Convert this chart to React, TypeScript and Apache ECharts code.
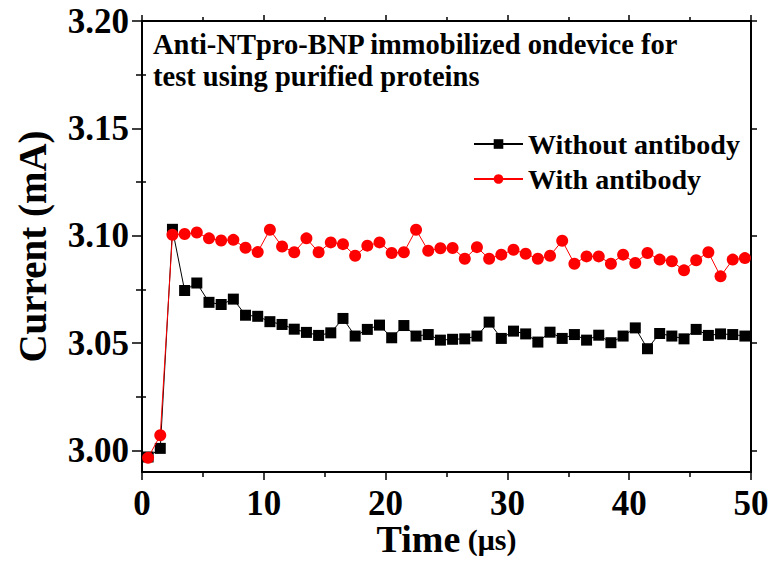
import React, { useEffect, useRef } from "react";
import * as echarts from "echarts";

const times = [
  0.5, 1.5, 2.5, 3.5, 4.5, 5.5, 6.5, 7.5, 8.5, 9.5,
  10.5, 11.5, 12.5, 13.5, 14.5, 15.5, 16.5, 17.5, 18.5, 19.5,
  20.5, 21.5, 22.5, 23.5, 24.5, 25.5, 26.5, 27.5, 28.5, 29.5,
  30.5, 31.5, 32.5, 33.5, 34.5, 35.5, 36.5, 37.5, 38.5, 39.5,
  40.5, 41.5, 42.5, 43.5, 44.5, 45.5, 46.5, 47.5, 48.5, 49.5,
];

const withoutAntibody = [
  2.997, 3.001, 3.103, 3.0745, 3.078, 3.069, 3.068, 3.0705, 3.063, 3.0625,
  3.06, 3.0587, 3.0565, 3.055, 3.0536, 3.0548, 3.0615, 3.0533, 3.0564, 3.0584,
  3.0525, 3.0582, 3.0533, 3.054, 3.0514, 3.0518, 3.052, 3.0533, 3.0598, 3.0522,
  3.0556, 3.0543, 3.0505, 3.0551, 3.0522, 3.054, 3.0514, 3.0537, 3.0502, 3.0533,
  3.0571, 3.0474, 3.0545, 3.0533, 3.052, 3.0564, 3.0536, 3.0543, 3.054, 3.0533,
];

const withAntibody = [
  2.9966, 3.0071, 3.1005, 3.1008, 3.1015, 3.0988, 3.0978, 3.0981, 3.0944, 3.0924,
  3.1028, 3.095, 3.0923, 3.0988, 3.0923, 3.0969, 3.0961, 3.0907, 3.0954, 3.0969,
  3.092, 3.0923, 3.1028, 3.093, 3.0942, 3.0943, 3.0893, 3.0947, 3.0893, 3.0912,
  3.0935, 3.0916, 3.0893, 3.0907, 3.0977, 3.087, 3.0904, 3.0904, 3.087, 3.0912,
  3.0873, 3.092, 3.0889, 3.0881, 3.0839, 3.0886, 3.0923, 3.0811, 3.0889, 3.0896,
];

const yMajorTicks = [3.0, 3.05, 3.1, 3.15, 3.2];
const yMinorTicks = [3.025, 3.075, 3.125, 3.175];
const yMin = 2.99;
const yMax = 3.2;

const seriesNames = ["Without antibody", "With antibody"];
const annotation = ["Anti-NTpro-BNP immobilized ondevice for", "test using purified proteins"];

const FONT = "'Liberation Serif', 'Times New Roman', serif";

export default function App() {
  const ref = useRef<HTMLDivElement>(null);

  useEffect(() => {
    if (!ref.current) return;
    const chart = echarts.init(ref.current, undefined, { renderer: "svg" });

    const baseY = {
      type: "value" as const,
      min: yMin,
      max: yMax,
      splitLine: { show: false },
      gridIndex: 0,
    };

    const option: any = {
      animation: false,
      backgroundColor: "#ffffff",
      textStyle: { fontFamily: FONT },
      grid: {
        left: 142,
        right: 22,
        top: 21,
        bottom: 95,
        containLabel: false,
        outerBoundsMode: "none",
      },
      legend: {
        orient: "vertical",
        left: 468,
        top: 125,
        itemWidth: 49,
        itemHeight: 12,
        itemGap: 7,
        data: seriesNames,
        textStyle: {
          fontFamily: FONT,
          fontWeight: "bold",
          fontSize: 28,
          lineHeight: 28,
          color: "#000",
        },
      },
      graphic: [
        {
          type: "text",
          left: 153,
          top: 28,
          style: {
            text: annotation.join("\n"),
            font: `bold 28.5px ${FONT}`,
            lineHeight: 32,
            fill: "#000",
          },
        },
      ],
      xAxis: [
        {
          type: "value",
          min: 0,
          max: 50,
          interval: 10,
          position: "bottom",
          name: "{a|Time}{b| (μs)}",
          nameLocation: "middle",
          nameGap: 51,
          nameMoveOverlap: false,
          nameTextStyle: {
            rich: {
              a: { fontFamily: FONT, fontWeight: "bold", fontSize: 38, lineHeight: 32, color: "#000" },
              b: { fontFamily: FONT, fontWeight: "bold", fontSize: 30, lineHeight: 32, color: "#000" },
            },
          },
          axisLine: { show: true, lineStyle: { color: "#000", width: 2 } },
          axisTick: { show: true, inside: false, length: 8, lineStyle: { color: "#000", width: 1.5 } },
          minorTick: { show: true, splitNumber: 2, length: 5, lineStyle: { color: "#000", width: 1.5 } },
          axisLabel: {
            fontFamily: FONT,
            fontWeight: "bold",
            fontSize: 35,
            lineHeight: 30,
            color: "#000",
            margin: 16,
          },
          splitLine: { show: false },
          minorSplitLine: { show: false },
        },
        {
          type: "value",
          min: 0,
          max: 50,
          interval: 10,
          position: "top",
          axisLine: { show: true, lineStyle: { color: "#000", width: 2 } },
          axisTick: { show: true, inside: false, length: 6, lineStyle: { color: "#000", width: 1.5 } },
          minorTick: { show: true, splitNumber: 2, length: 4, lineStyle: { color: "#000", width: 1.5 } },
          axisLabel: { show: false },
          splitLine: { show: false },
        },
      ],
      yAxis: [
        {
          ...baseY,
          position: "left",
          name: "Current (mA)",
          nameLocation: "middle",
          nameGap: 90,
          nameRotate: 90,
          nameMoveOverlap: false,
          nameTextStyle: {
            fontFamily: FONT,
            fontWeight: "bold",
            fontSize: 39,
            color: "#000",
          },
          axisLine: { show: true, onZero: false, lineStyle: { color: "#000", width: 2 } },
          axisTick: {
            show: true,
            inside: false,
            length: 10,
            customValues: yMajorTicks,
            lineStyle: { color: "#000", width: 1.5 },
          },
          axisLabel: {
            customValues: yMajorTicks,
            formatter: (v: number) => v.toFixed(2),
            fontFamily: FONT,
            fontWeight: "bold",
            fontSize: 35,
            color: "#000",
            margin: 13,
          },
        },
        {
          ...baseY,
          position: "left",
          axisLine: { show: false },
          axisTick: {
            show: true,
            inside: false,
            length: 6,
            customValues: yMinorTicks,
            lineStyle: { color: "#000", width: 1.5 },
          },
          axisLabel: { show: false },
        },
        {
          ...baseY,
          position: "right",
          axisLine: { show: true, onZero: false, lineStyle: { color: "#000", width: 2 } },
          axisTick: {
            show: true,
            inside: false,
            length: 6,
            customValues: yMajorTicks,
            lineStyle: { color: "#000", width: 1.5 },
          },
          axisLabel: { show: false },
        },
        {
          ...baseY,
          position: "right",
          axisLine: { show: false },
          axisTick: {
            show: true,
            inside: false,
            length: 4,
            customValues: yMinorTicks,
            lineStyle: { color: "#000", width: 1.5 },
          },
          axisLabel: { show: false },
        },
      ],
      series: [
        {
          name: seriesNames[0],
          type: "line",
          xAxisIndex: 0,
          yAxisIndex: 0,
          data: times.map((t, i) => [t, withoutAntibody[i]]),
          symbol: "rect",
          symbolSize: 11,
          showAllSymbol: true,
          lineStyle: { color: "#000", width: 1 },
          itemStyle: { color: "#000" },
          z: 2,
        },
        {
          name: seriesNames[1],
          type: "line",
          xAxisIndex: 0,
          yAxisIndex: 0,
          data: times.map((t, i) => [t, withAntibody[i]]),
          symbol: "circle",
          symbolSize: 12,
          showAllSymbol: true,
          lineStyle: { color: "#ff0000", width: 1 },
          itemStyle: { color: "#ff0000" },
          z: 3,
        },
      ],
    };

    chart.setOption(option);
    return () => {
      chart.dispose();
    };
  }, []);

  return (
    <div
      ref={ref}
      style={{ position: "fixed", left: 0, top: 0, width: 773, height: 567, background: "#fff" }}
    />
  );
}
